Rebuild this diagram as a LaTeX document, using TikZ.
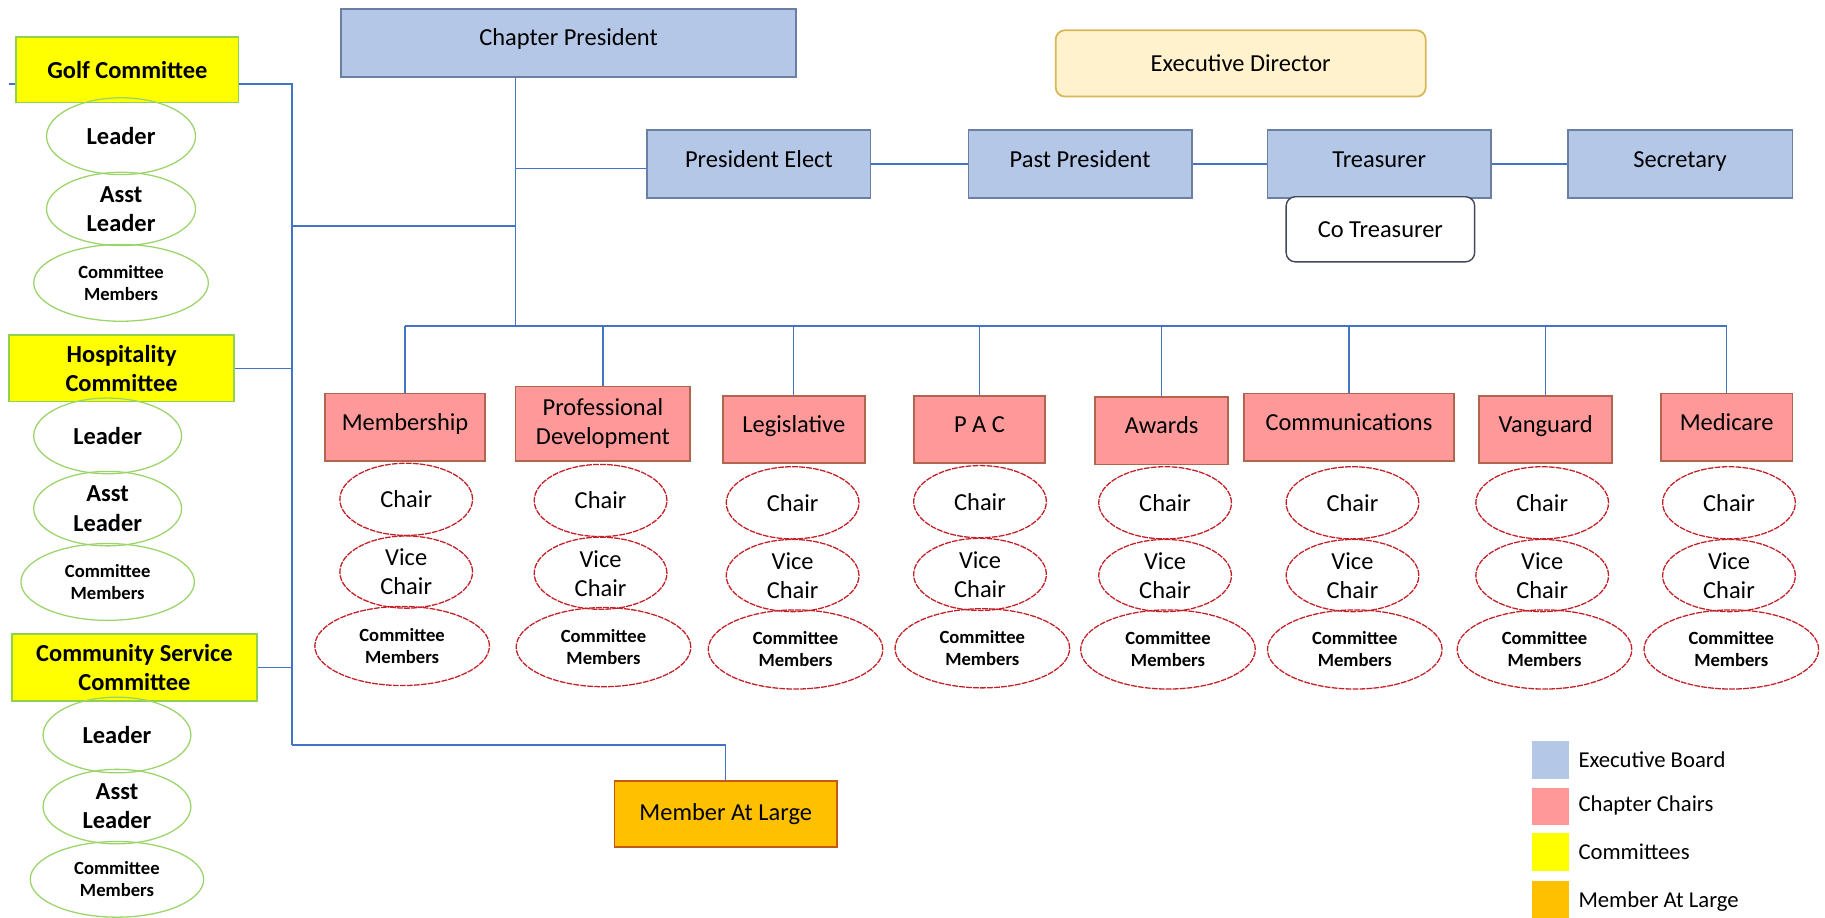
\documentclass[tikz,border=0pt]{standalone}
\usepackage{fontspec}
\setmainfont{Carlito}
\usetikzlibrary{shapes.geometric,backgrounds}
\definecolor{execfill}{HTML}{B4C7E7}
\definecolor{execdraw}{HTML}{6A7FA3}
\definecolor{edfill}{HTML}{FFF2CC}
\definecolor{eddraw}{HTML}{D6B656}
\definecolor{chairfill}{HTML}{FF9999}
\definecolor{chairdraw}{HTML}{B0654F}
\definecolor{comfill}{HTML}{FFFF00}
\definecolor{comdraw}{HTML}{92D050}
\definecolor{greenell}{HTML}{9CD46C}
\definecolor{redell}{HTML}{C41E26}
\definecolor{malfill}{HTML}{FFC000}
\definecolor{maldraw}{HTML}{C55A11}
\definecolor{linec}{HTML}{4472C4}
\definecolor{cotdraw}{HTML}{404859}
\begin{document}
\begin{tikzpicture}[x=1pt,y=-1pt,
  mainfont/.style={font=\fontsize{21}{25}\selectfont},
  box/.style={rectangle,inner sep=0pt,align=center,line width=1.5pt,mainfont},
  oneline/.style={text height=14pt,text depth=9pt},
  execbox/.style={box,oneline,fill=execfill,draw=execdraw},
  edbox/.style={box,fill=edfill,draw=eddraw,rounded corners=8pt},
  cotbox/.style={box,fill=white,draw=cotdraw,rounded corners=8pt,line width=1.2pt},
  chairbox/.style={box,fill=chairfill,draw=chairdraw},
  combox/.style={box,fill=comfill,draw=comdraw,font=\fontsize{21}{25}\selectfont\bfseries},
  malbox/.style={box,fill=malfill,draw=maldraw},
  ell/.style={ellipse,inner sep=0pt,align=center,line width=1.1pt,mainfont},
  gell/.style={ell,draw=greenell},
  rell/.style={ell,draw=redell,dash pattern=on 5pt off 1pt},
  gellb/.style={gell,font=\fontsize{21}{25}\selectfont\bfseries},
  cmtext/.style={font=\fontsize{16}{19}\selectfont\bfseries},
  conn/.style={draw=linec,line width=1.2pt},
  legsq/.style={rectangle,inner sep=0pt,minimum width=32,minimum height=32},
  legtext/.style={anchor=west,inner sep=0pt,font=\fontsize{19.5}{23}\selectfont}
]
\useasboundingbox (0,0) rectangle (1568,788);

% Executive board
\node[execbox,minimum width=391,minimum height=58] (cp) at (488.5,37) {Chapter President};
\node[edbox,minimum width=318,minimum height=57] (ed) at (1066,54.5) {Executive Director};
\node[execbox,minimum width=192,minimum height=58] (pe) at (652,141) {President Elect};
\node[execbox,minimum width=192,minimum height=58] (pp) at (928,141) {Past President};
\node[execbox,minimum width=192,minimum height=58] (tr) at (1185,141) {Treasurer};
\node[execbox,minimum width=193,minimum height=58] (sec) at (1443.5,141) {Secretary};
\node[cotbox,minimum width=162,minimum height=56] (cot) at (1186,197) {Co Treasurer};

% Committees
\node[combox,minimum width=191,minimum height=56] (golf) at (109.5,60) {Golf Committee};
\node[combox,minimum width=193,minimum height=57] (hosp) at (104.5,316.5) {Hospitality\\Committee};
\node[combox,minimum width=211,minimum height=57] (comm) at (115.5,573.5) {Community Service\\Committee};

\node[gellb,minimum width=128,minimum height=66] (g1) at (104,117) {Leader};
\node[gellb,minimum width=128,minimum height=63] (g2) at (104,179.5) {Asst\\Leader};
\node[gell,cmtext,minimum width=150,minimum height=66] (g3) at (104,243) {Committee\\Members};
\node[gellb,minimum width=127,minimum height=65] (h1) at (92.5,374.5) {Leader};
\node[gellb,minimum width=127,minimum height=64] (h2) at (92.5,437) {Asst\\Leader};
\node[gell,cmtext,minimum width=149,minimum height=66] (h3) at (92.5,500) {Committee\\Members};
\node[gellb,minimum width=127,minimum height=65] (c1) at (100.5,631.5) {Leader};
\node[gellb,minimum width=127,minimum height=64] (c2) at (100.5,693) {Asst\\Leader};
\node[gell,cmtext,minimum width=149,minimum height=65] (c3) at (100.5,755.5) {Committee\\Members};

% Chapter chairs
\node[chairbox,oneline,minimum width=138,minimum height=58] (mem) at (348,367) {Membership};
\node[chairbox,minimum width=150,minimum height=64] (pd) at (518,364) {Professional\\Development};
\node[chairbox,oneline,minimum width=122,minimum height=58] (leg) at (682,369) {Legislative};
\node[chairbox,oneline,minimum width=113,minimum height=58] (pac) at (841.5,369) {P A C};
\node[chairbox,oneline,minimum width=114,minimum height=58] (awd) at (998,370) {Awards};
\node[chairbox,oneline,minimum width=180,minimum height=58] (com) at (1159,367) {Communications};
\node[chairbox,oneline,minimum width=114,minimum height=58] (van) at (1328,369) {Vanguard};
\node[chairbox,oneline,minimum width=113,minimum height=58] (med) at (1483.5,367) {Medicare};

\foreach \n/\x/\xc/\y in {mem/349/345.5/429, pd/516/518.5/430, leg/681/683.5/432, pac/842/844/431,
    awd/1001/1003.5/432, com/1162/1164/432, van/1325/1327/432, med/1485.5/1487.5/432}{
  \node[rell,minimum width=114,minimum height=62] (\n-c) at (\x,\y) {Chair};
  \node[rell,minimum width=114,minimum height=62] (\n-v) at (\x,\y+62.5) {Vice\\Chair};
  \node[rell,cmtext,minimum width=150,minimum height=68] (\n-m) at (\xc,\y+126) {Committee\\Members};
}

% Member at large
\node[malbox,minimum width=191,minimum height=57] (mal) at (623.5,699.5) {Member At Large};

% Legend
\node[legsq,fill=execfill] (l1) at (1332,653) {};
\node[legtext] (l1t) at (1356,653) {Executive Board};
\node[legsq,fill=chairfill] (l2) at (1332,693) {};
\node[legtext] (l2t) at (1356,692) {Chapter Chairs};
\node[legsq,fill=comfill] (l3) at (1332,732) {};
\node[legtext] (l3t) at (1356,732) {Committees};
\node[legsq,fill=malfill] (l4) at (1332,772.5) {};
\node[legtext] (l4t) at (1356,775) {Member At Large};

% Connectors
\coordinate (cbus) at (443,280);
\coordinate (gj) at (251,72);
\coordinate (gstub) at (8,72);
\coordinate (lj) at (251,194);
\coordinate (lbB) at (251,640);
\coordinate (pej) at (443,145);
\begin{scope}[on background layer]
  \draw[conn] (cp.south -| cbus) -- (cbus);
  \draw[conn] (pej) -- (pej -| pe.west);
  \draw[conn] (pe.east) -- (pp.west);
  \draw[conn] (pp.east) -- (tr.west);
  \draw[conn] (tr.east) -- (sec.west);
  \draw[conn] (mem.north |- cbus) -- (med.north |- cbus);
  \foreach \n in {mem,pd,leg,pac,awd,com,van,med}{
    \draw[conn] (\n.north) -- (\n.north |- cbus);
  }
  \draw[conn] (gstub) -- (gj) -- (lbB);
  \draw[conn] (hosp.east) -- (hosp.east -| gj);
  \draw[conn] (comm.east) -- (comm.east -| gj);
  \draw[conn] (lj) -- (lj -| cbus);
  \draw[conn] (lbB) -| (mal.north);
\end{scope}
\end{tikzpicture}
\end{document}
